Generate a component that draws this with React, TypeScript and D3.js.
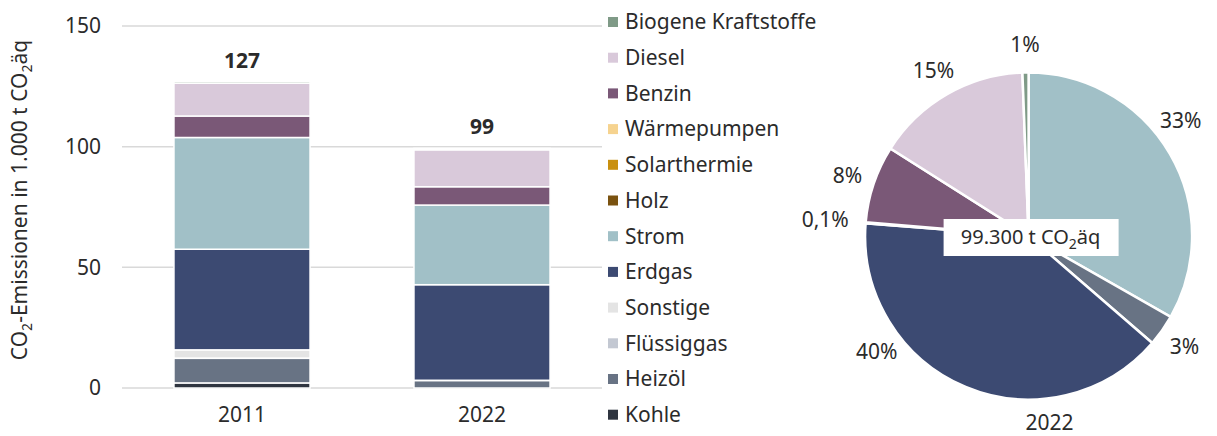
import React from "react";
import { scaleBand, scaleLinear, stack, pie, arc, sum } from "d3";

// data
const years = ["2011", "2022"];
const sources = [
  "Kohle",
  "Heizöl",
  "Flüssiggas",
  "Sonstige",
  "Erdgas",
  "Strom",
  "Holz",
  "Solarthermie",
  "Wärmepumpen",
  "Benzin",
  "Diesel",
  "Biogene Kraftstoffe",
];
const values2011 = [2.1, 10.2, 0.1, 3.4, 41.7, 46.3, 0, 0, 0, 8.9, 13.6, 0.7];
const values2022 = [0, 3.1, 0.1, 0, 39.6, 33.0, 0, 0, 0, 7.6, 15.3, 0.6];
const yTicks = [0, 50, 100, 150];
const pieOrder = ["Strom", "Heizöl", "Erdgas", "Flüssiggas", "Benzin", "Diesel", "Biogene Kraftstoffe"];

const colors: Record<string, string> = {
  "Biogene Kraftstoffe": "#7f9a87",
  Diesel: "#d9c9da",
  Benzin: "#7a5877",
  "Wärmepumpen": "#f6d38f",
  Solarthermie: "#c9900f",
  Holz: "#7a5210",
  Strom: "#a1c0c7",
  Erdgas: "#3c4a72",
  Sonstige: "#e4e4e4",
  "Flüssiggas": "#c3c8d2",
  "Heizöl": "#687384",
  Kohle: "#2f3540",
};
// excel-ish label nudges (degrees)
const labelShift: Record<string, number> = { Strom: -7, Erdgas: 30 };

const font = "'Noto Sans', 'Open Sans', sans-serif";
const ink = "#2b2b2b";
const fs = 21;

const W = 1217;
const H = 436;

const App = () => {
  const rows = years.map((y, i) => {
    const vals = i === 0 ? values2011 : values2022;
    const row: any = { year: y };
    sources.forEach((s, k) => (row[s] = vals[k]));
    return row;
  });
  const layers = stack().keys(sources)(rows);

  const x = scaleBand().domain(years).range([122, 602]).paddingInner(0.433).paddingOuter(0.2165);
  const y = scaleLinear().domain([0, 150]).range([388, 26]);

  // pie for 2022
  const pieData = pieOrder.map((s) => ({ name: s, value: values2022[sources.indexOf(s)] }));
  const total22 = sum(values2022);
  const arcs = pie<any>().sort(null).value((d) => d.value)(pieData);
  const cx = 1028.6;
  const cy = 236;
  const R = 163.5;
  const arcGen = arc<any>().innerRadius(0).outerRadius(R);
  const fmtPct = (v: number) => {
    const p = (v / total22) * 100;
    return p < 0.5 ? p.toFixed(1).replace(".", ",") + "%" : Math.round(p) + "%";
  };
  const totalLabel = Math.round(total22 * 1000).toLocaleString("de-DE");

  const legendItems = sources.slice().reverse();

  return (
    <svg width={W} height={H} style={{ position: "absolute", left: 0, top: 0, background: "#fff" }} fontFamily={font}>
      {/* grid + y ticks */}
      {yTicks.map((t) => (
        <g key={t}>
          <line x1={122} x2={602} y1={y(t)} y2={y(t)} stroke="#d9d9d9" strokeWidth={1.5} />
          <text x={101} y={y(t)} dy="0.35em" textAnchor="end" fontSize={fs} fill={ink}>
            {t}
          </text>
        </g>
      ))}
      {/* y title */}
      <text transform="translate(27,200) rotate(-90)" textAnchor="middle" fontSize={fs} fill={ink}>
        CO<tspan fontSize={14} dy={5}>2</tspan>
        <tspan dy={-5}>-Emissionen in 1.000 t CO</tspan>
        <tspan fontSize={14} dy={5}>2</tspan>
        <tspan dy={-5}>äq</tspan>
      </text>

      {/* stacked bars */}
      {layers.map((layer) => (
        <g key={layer.key} fill={colors[layer.key]}>
          {layer.map((d: any, i: number) =>
            d[1] - d[0] > 0 ? (
              <rect
                key={i}
                x={x(d.data.year)}
                width={x.bandwidth()}
                y={y(d[1])}
                height={y(d[0]) - y(d[1])}
                stroke="#fff"
                strokeWidth={1.5}
              />
            ) : null
          )}
        </g>
      ))}
      {/* totals + x labels */}
      {years.map((yr, i) => {
        const tot = sum(i === 0 ? values2011 : values2022);
        const xc = (x(yr) as number) + x.bandwidth() / 2;
        return (
          <g key={yr}>
            <text x={xc} y={y(tot) - 14} textAnchor="middle" fontSize={fs} fontWeight={700} fill={ink}>
              {Math.round(tot)}
            </text>
            <text x={xc} y={415} dy="0.35em" textAnchor="middle" fontSize={fs} fill={ink}>
              {yr}
            </text>
          </g>
        );
      })}

      {/* legend */}
      {legendItems.map((s, i) => (
        <g key={s} transform={`translate(608,${22 + i * 35.7})`}>
          <rect x={0} y={-5} width={10} height={10} fill={colors[s]} />
          <text x={17} y={0} dy="0.35em" fontSize={fs} fill={ink}>
            {s}
          </text>
        </g>
      ))}

      {/* pie */}
      <g transform={`translate(${cx},${cy})`}>
        {arcs.map((a) => (
          <path key={a.data.name} d={arcGen(a) as string} fill={colors[a.data.name]} stroke="#fff" strokeWidth={2.5} />
        ))}
        {arcs.map((a) => {
          const mid = (a.startAngle + a.endAngle) / 2 + ((labelShift[a.data.name] || 0) * Math.PI) / 180;
          const r = a.data.value / total22 < 0.005 ? 204 : 191;
          return (
            <text
              key={a.data.name}
              x={Math.sin(mid) * r}
              y={-Math.cos(mid) * r}
              dy="0.35em"
              textAnchor="middle"
              fontSize={fs}
              fill={ink}
            >
              {fmtPct(a.data.value)}
            </text>
          );
        })}
        <rect x={-85} y={-17} width={175} height={37} fill="#fff" />
        <text x={2} y={1} dy="0.35em" textAnchor="middle" fontSize={20} fill={ink}>
          {totalLabel} t CO<tspan fontSize={14} dy={5}>2</tspan>
          <tspan dy={-5}>äq</tspan>
        </text>
        <text x={21} y={187} dy="0.35em" textAnchor="middle" fontSize={fs} fill={ink}>
          2022
        </text>
      </g>
    </svg>
  );
};

export default App;
